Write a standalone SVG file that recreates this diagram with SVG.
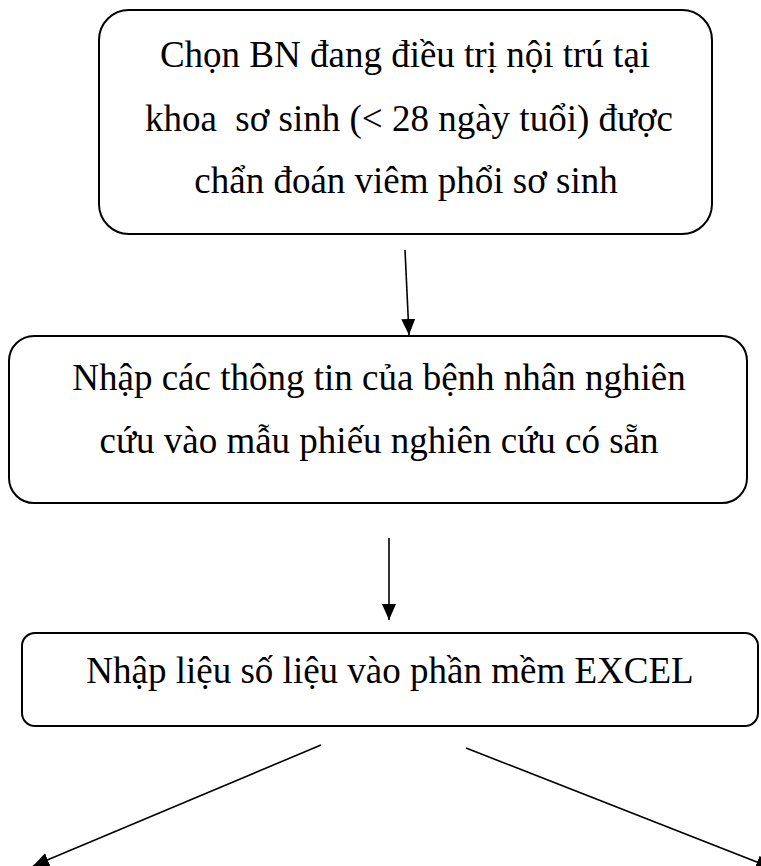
<svg xmlns="http://www.w3.org/2000/svg" width="761" height="866" viewBox="0 0 761 866">
  <style>
    .box { fill: #ffffff; stroke: #000000; stroke-width: 2; }
    .lbl { font-family: "Liberation Serif", "Times New Roman", serif; font-size: 37px; fill: #000000; text-anchor: middle; }
    .conn { stroke: #000000; stroke-width: 1.6; fill: none; marker-end: url(#arrow); }
  </style>
  <defs>
    <marker id="arrow" markerUnits="userSpaceOnUse" markerWidth="16" markerHeight="16" viewBox="0 0 16 16" refX="16" refY="8" orient="auto">
      <path d="M0,1 L16,8 L0,15 Z" fill="#000000"/>
    </marker>
  </defs>
  <rect width="761" height="866" fill="#ffffff"/>

  <g id="node1">
    <rect class="box" x="99" y="10" width="613" height="224" rx="30" ry="30"/>
    <text class="lbl" x="405" y="67">Chọn BN đang điều trị nội trú tại</text>
    <text class="lbl" x="409" y="131" xml:space="preserve">khoa  sơ sinh (&lt; 28 ngày tuổi) được</text>
    <text class="lbl" x="406" y="193">chẩn đoán viêm phổi sơ sinh</text>
  </g>

  <g id="node2">
    <rect class="box" x="9" y="336" width="738" height="167" rx="25" ry="25"/>
    <text class="lbl" x="379" y="390">Nhập các thông tin của bệnh nhân nghiên</text>
    <text class="lbl" x="379" y="453">cứu vào mẫu phiếu nghiên cứu có sẵn</text>
  </g>

  <g id="node3">
    <rect class="box" x="22" y="633" width="736" height="93" rx="13" ry="13"/>
    <text class="lbl" x="390" y="683">Nhập liệu số liệu vào phần mềm EXCEL</text>
  </g>

  <g id="connectors">
    <line class="conn" x1="405" y1="250" x2="409" y2="335"/>
    <line class="conn" x1="389" y1="538" x2="389" y2="620"/>
    <line class="conn" x1="321" y1="745" x2="33" y2="866"/>
    <line class="conn" x1="466" y1="748" x2="772" y2="868"/>
  </g>
</svg>
